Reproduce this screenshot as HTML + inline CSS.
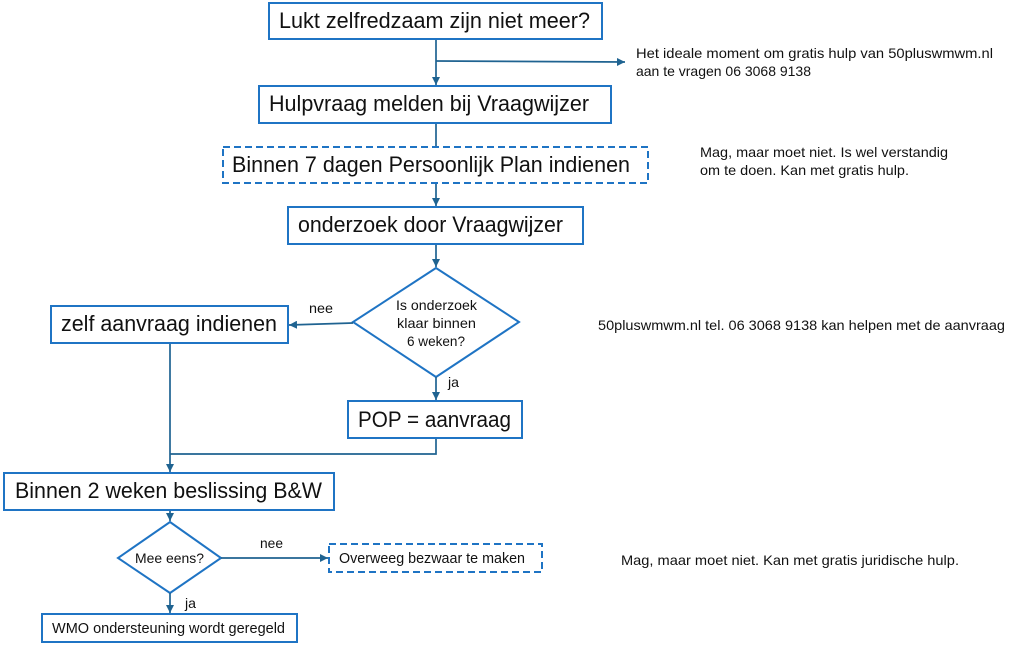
<!DOCTYPE html>
<html><head><meta charset="utf-8"><style>
html,body{margin:0;padding:0;background:#fff;}
svg{display:block;}
text{font-family:"Liberation Sans",sans-serif;fill:#111;}
</style></head><body>
<svg width="1024" height="646" viewBox="0 0 1024 646" xmlns="http://www.w3.org/2000/svg">
<defs>
<marker id="ah" viewBox="0 0 10 10" refX="10" refY="5" markerWidth="8" markerHeight="8" markerUnits="userSpaceOnUse" orient="auto">
<path d="M0,0 L10,5 L0,10 z" fill="#1F6391"/>
</marker>
</defs>
<g fill="none" stroke="#1F74C4" stroke-width="2">
<rect x="269" y="3" width="333" height="36"/>
<rect x="259" y="86" width="352" height="37"/>
<rect x="223" y="147" width="425" height="36" stroke-dasharray="7,4"/>
<rect x="288" y="207" width="295" height="37"/>
<polygon points="436,268 519,322 436,377 353,322"/>
<rect x="51" y="306" width="237" height="37"/>
<rect x="348" y="401" width="174" height="37"/>
<rect x="4" y="473" width="330" height="37"/>
<polygon points="170,522 221,558 170,593 118,558"/>
<rect x="329" y="544" width="213" height="28" stroke-dasharray="7,4"/>
<rect x="42" y="614" width="255" height="28"/>
</g>
<g fill="none" stroke="#1F6391" stroke-width="1.7">
<line x1="436" y1="40" x2="436" y2="85" marker-end="url(#ah)"/>
<line x1="436" y1="61" x2="625" y2="62" marker-end="url(#ah)"/>
<line x1="436" y1="124" x2="436" y2="146"/>
<line x1="436" y1="184" x2="436" y2="206" marker-end="url(#ah)"/>
<line x1="436" y1="245" x2="436" y2="267" marker-end="url(#ah)"/>
<line x1="353" y1="323" x2="289" y2="325" marker-end="url(#ah)"/>
<line x1="436" y1="377" x2="436" y2="400" marker-end="url(#ah)"/>
<polyline points="436,439 436,454 170,454"/>
<line x1="170" y1="344" x2="170" y2="472" marker-end="url(#ah)"/>
<line x1="170" y1="511" x2="170" y2="521" marker-end="url(#ah)"/>
<line x1="221" y1="558" x2="328" y2="558" marker-end="url(#ah)"/>
<line x1="170" y1="593" x2="170" y2="613" marker-end="url(#ah)"/>
</g>
<g font-size="22">
<text x="279" y="28" textLength="311" lengthAdjust="spacingAndGlyphs">Lukt zelfredzaam zijn niet meer?</text>
<text x="269" y="111" textLength="320" lengthAdjust="spacingAndGlyphs">Hulpvraag melden bij Vraagwijzer</text>
<text x="232" y="172" textLength="398" lengthAdjust="spacingAndGlyphs">Binnen 7 dagen Persoonlijk Plan indienen</text>
<text x="298" y="232" textLength="265" lengthAdjust="spacingAndGlyphs">onderzoek door Vraagwijzer</text>
<text x="61" y="331" textLength="216" lengthAdjust="spacingAndGlyphs">zelf aanvraag indienen</text>
<text x="358" y="427" textLength="153" lengthAdjust="spacingAndGlyphs">POP = aanvraag</text>
<text x="15" y="498" textLength="307" lengthAdjust="spacingAndGlyphs">Binnen 2 weken beslissing B&amp;W</text>
</g>
<g font-size="14.5">
<text x="52" y="633" textLength="233" lengthAdjust="spacingAndGlyphs">WMO ondersteuning wordt geregeld</text>
<text x="339" y="563" textLength="186" lengthAdjust="spacingAndGlyphs">Overweeg bezwaar te maken</text>
</g>
<g font-size="14">
<text x="396" y="310" textLength="81" lengthAdjust="spacingAndGlyphs">Is onderzoek</text>
<text x="397" y="328" textLength="79" lengthAdjust="spacingAndGlyphs">klaar binnen</text>
<text x="407" y="346" textLength="58" lengthAdjust="spacingAndGlyphs">6 weken?</text>
<text x="135" y="563" textLength="69" lengthAdjust="spacingAndGlyphs">Mee eens?</text>
<text x="309" y="313" textLength="24" lengthAdjust="spacingAndGlyphs">nee</text>
<text x="448" y="387" textLength="11" lengthAdjust="spacingAndGlyphs">ja</text>
<text x="260" y="548" textLength="23" lengthAdjust="spacingAndGlyphs">nee</text>
<text x="185" y="608" textLength="11" lengthAdjust="spacingAndGlyphs">ja</text>
</g>
<g font-size="14">
<text x="636" y="58" textLength="357" lengthAdjust="spacingAndGlyphs">Het ideale moment om gratis hulp van 50pluswmwm.nl</text>
<text x="636" y="76" textLength="175" lengthAdjust="spacingAndGlyphs">aan te vragen 06 3068 9138</text>
<text x="700" y="157" textLength="248" lengthAdjust="spacingAndGlyphs">Mag, maar moet niet. Is wel verstandig</text>
<text x="700" y="175" textLength="209" lengthAdjust="spacingAndGlyphs">om te doen. Kan met gratis hulp.</text>
<text x="598" y="330" textLength="407" lengthAdjust="spacingAndGlyphs">50pluswmwm.nl tel. 06 3068 9138 kan helpen met de aanvraag</text>
<text x="621" y="565" textLength="338" lengthAdjust="spacingAndGlyphs">Mag, maar moet niet. Kan met gratis juridische hulp.</text>
</g>
</svg>
</body></html>
